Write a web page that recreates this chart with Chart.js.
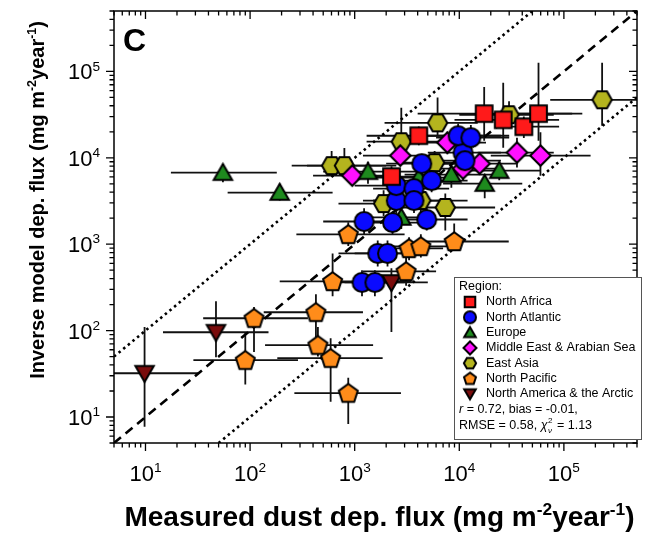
<!DOCTYPE html>
<html>
<head>
<meta charset="utf-8">
<script src="https://cdn.jsdelivr.net/npm/chart.js@4.4.0/dist/chart.umd.min.js"></script>
<style>
  html, body { margin: 0; padding: 0; background: #fff; }
  #wrap { width: 648px; height: 535px; }
</style>
</head>
<body>
<div id="wrap"><canvas id="chart" width="648" height="535"></canvas></div>
<script>
// ---- data ----
const regions = ['North Africa', 'North Atlantic', 'Europe', 'Middle East & Arabian Sea',
                 'East Asia', 'North Pacific', 'North America & the Arctic'];
const tickExponents = ['1', '2', '3', '4', '5'];
const axisMin = 5, axisMax = 5e5;

// North Africa
const nafX = [2250, 4100, 17300, 26300, 41400, 57200];
const nafY = [6060, 18000, 32400, 27500, 22900, 32400];
const nafXr = [[900, 6000], [1300, 30000], [4000, 120000], [9000, 90000], [22000, 90000], [22000, 150000]];
const nafYr = [[4500, 8000], [14000, 23000], [15800, 66000], [13100, 74000], [17000, 30000], [15800, 126000]];

// North Atlantic
const natX = [1175, 1560, 1660, 2060, 1230, 4880, 2500, 2500, 3690, 5440, 4380, 10860, 11330, 9750, 12900, 2300, 3690];
const natY = [361, 361, 782, 782, 1830, 1930, 3200, 4770, 4400, 5450, 8550, 11500, 9270, 18000, 17100, 1780, 3200];
const natXr = [[600, 2500], [800, 3000], [700, 4000], [1000, 4500], [500, 3000], [2000, 12000], [1200, 5000], [1000, 6000],
               [1500, 8000], [2500, 12000], [2000, 10000], [5000, 25000], [5000, 25000], [4000, 25000], [6000, 30000], [1000, 5000], [1500, 8000]];
const natYr = [[250, 500], [250, 500], [550, 1100], [550, 1100], [1300, 2600], [1440, 2680], [2300, 4300], [3500, 6500],
               [3200, 6000], [4000, 7500], [6500, 11000], [8500, 15000], [7000, 12000], [13000, 25000], [12000, 24000], [1300, 2400], [2300, 4300]];

// Europe
const eurX = [55, 192, 1340, 4100, 2790, 8400, 17500, 24100];
const eurY = [6730, 3960, 6900, 5900, 2040, 6400, 5030, 7100];
const eurXr = [[17.5, 180], [61, 615], [500, 4000], [1500, 9000], [1200, 6000], [3000, 25000], [7000, 40000], [10000, 60000]];
const eurYr = [[5200, 8500], [3200, 5000], [5000, 9000], [4500, 8000], [1500, 2900], [4500, 8500], [3400, 6500], [5500, 9000]];

// Middle East & Arabian Sea
const meX = [947, 2730, 7690, 10860, 15660, 35600, 59700];
const meY = [6220, 10600, 15000, 7490, 8550, 11500, 10600];
const meXr = [[400, 2200], [1200, 6000], [3500, 18000], [5000, 25000], [7000, 35000], [15000, 80000], [20000, 180000]];
const meYr = [[4800, 8000], [8000, 14000], [11000, 20000], [5500, 10000], [6500, 11000], [7700, 17100], [6200, 19700]];

// East Asia
const easX = [602, 797, 2790, 6200, 29900, 232000, 5810, 1890, 4290, 7350];
const easY = [8110, 8110, 15350, 25400, 31500, 46900, 8780, 2950, 3200, 2660];
const easXr = [[250, 2000], [350, 2500], [1300, 8000], [1930, 15000], [10000, 80000], [74000, 600000], [2500, 14000], [700, 5000], [1500, 12000], [2800, 22000]];
const easYr = [[6500, 12000], [6000, 13000], [9000, 38000], [18000, 50000], [22000, 45000], [23500, 126000], [6500, 12000], [2100, 4200], [2200, 4500], [1440, 3850]];

// North Pacific
const npX = [90, 109, 426, 445, 589, 868, 615, 868, 3100, 3310, 4290, 8940];
const npY = [45.4, 139, 163, 67.8, 47.9, 18.9, 371, 1300, 484, 893, 942, 1075];
const npXr = [[28.7, 287], [35.6, 357], [135, 1200], [139, 1500], [182, 1850], [265, 2770], [192, 3500], [277, 3000], [1200, 6000], [1500, 7000], [2000, 9000], [4100, 29700]];
const npYr = [[23.8, 96.4], [56.6, 187], [84, 263], [50, 110], [15, 81.5], [8.3, 28.4], [250, 780], [950, 1800], [330, 700], [650, 1200], [700, 1300], [847, 1730]];

// North America & the Arctic
const nacX = [9.8, 47.2, 2245];
const nacY = [32.1, 95.7, 361];
const nacXr = [[3, 32], [14.7, 150], [1000, 5000]];
const nacYr = [[7.7, 110], [49.2, 218], [96, 525]];

// ---- styling ----
const FONT = '"Liberation Sans", Arial, sans-serif';
const colors = ['#ff1a1a', '#0a0aff', '#1e8a1e', '#ff10ff', '#b4b41e', '#ff8c1a', '#7a0c0c'];
const shapes = ['square', 'circle', 'triUp', 'diamond', 'hexagon', 'pentagon', 'triDown'];

function makeMarker(shape, fill, size) {
    const pad = 3;
    const c = document.createElement('canvas');
    c.width = c.height = size + pad * 2;
    const g = c.getContext('2d');
    const cx = c.width / 2, cy = c.height / 2, r = size / 2;
    const poly = (n, start, rad, dy) => {
        g.beginPath();
        for (let i = 0; i < n; i++) {
            const a = start + i * 2 * Math.PI / n;
            const px = cx + rad * Math.cos(a), py = cy + (dy || 0) + rad * Math.sin(a);
            i ? g.lineTo(px, py) : g.moveTo(px, py);
        }
        g.closePath();
    };
    if (shape === 'circle') { g.beginPath(); g.arc(cx, cy, r, 0, Math.PI * 2); }
    else if (shape === 'square') { const s = r * 0.88; g.beginPath(); g.rect(cx - s, cy - s, 2 * s, 2 * s); }
    else if (shape === 'triUp') poly(3, -Math.PI / 2, r * 1.12, r * 0.2);
    else if (shape === 'triDown') poly(3, Math.PI / 2, r * 1.12, -r * 0.2);
    else if (shape === 'diamond') poly(4, 0, r * 1.08);
    else if (shape === 'hexagon') poly(6, 0, r * 1.02);
    else if (shape === 'pentagon') poly(5, -Math.PI / 2, r * 1.05, r * 0.08);
    g.fillStyle = fill;
    g.fill();
    g.lineWidth = 2;
    g.lineJoin = 'miter';
    g.strokeStyle = '#000';
    g.stroke();
    return c;
}

const bigMarkers = shapes.map((s, i) => makeMarker(s, colors[i], 19));
const smallMarkers = shapes.map((s, i) => makeMarker(s, colors[i], 12));

const seriesX = [nafX, natX, eurX, meX, easX, npX, nacX];
const seriesY = [nafY, natY, eurY, meY, easY, npY, nacY];
const seriesXr = [nafXr, natXr, eurXr, meXr, easXr, npXr, nacXr];
const seriesYr = [nafYr, natYr, eurYr, meYr, easYr, npYr, nacYr];

const pointSets = regions.map((name, i) => ({
    label: name,
    data: seriesX[i].map((x, k) => ({ x: x, y: seriesY[i][k] })),
    errX: seriesXr[i],
    errY: seriesYr[i],
    pointStyle: bigMarkers[i],
    pointRadius: 10,
    showLine: false
}));

// reference lines: 1:1 and factor 10
const refLines = [
    { data: [{ x: axisMin, y: axisMin }, { x: axisMax, y: axisMax }], borderDash: [9, 6] },
    { data: [{ x: axisMin, y: axisMin * 10 }, { x: axisMax / 10, y: axisMax }], borderDash: [2.5, 3.5] },
    { data: [{ x: axisMin * 10, y: axisMin }, { x: axisMax, y: axisMax / 10 }], borderDash: [2.5, 3.5] }
].map(l => Object.assign(l, {
    showLine: true, pointRadius: 0, borderColor: '#000', borderWidth: 2.6, fill: false
}));

// draws text pieces, some of them superscript, starting at x
function drawRich(ctx, segs, x, y, size, bold) {
    const w = bold ? 'bold ' : '';
    let cx = x;
    segs.forEach(s => {
        const sz = s.sup ? size * 0.62 : size;
        ctx.font = w + sz + 'px ' + FONT;
        ctx.fillText(s.t, cx, s.sup ? y - size * 0.4 : y);
        cx += ctx.measureText(s.t).width;
    });
    return cx - x;
}
function richWidth(ctx, segs, size, bold) {
    const w = bold ? 'bold ' : '';
    return segs.reduce((acc, s) => {
        ctx.font = w + (s.sup ? size * 0.62 : size) + 'px ' + FONT;
        return acc + ctx.measureText(s.t).width;
    }, 0);
}

const unitSegs = [{ t: '(mg m' }, { t: '-2', sup: true }, { t: 'year' }, { t: '-1', sup: true }, { t: ')' }];
const xTitle = [{ t: 'Measured dust dep. flux ' }].concat(unitSegs);
const yTitle = [{ t: 'Inverse model dep. flux ' }].concat(unitSegs);

const decorations = {
    id: 'decorations',
    beforeDatasetsDraw(chart) {
        const ctx = chart.ctx, xs = chart.scales.x, ys = chart.scales.y, a = chart.chartArea;
        ctx.save();
        ctx.beginPath();
        ctx.rect(a.left, a.top, a.right - a.left, a.bottom - a.top);
        ctx.clip();
        ctx.strokeStyle = '#111';
        ctx.lineWidth = 1.8;
        chart.data.datasets.forEach(ds => {
            if (!ds.errX) return;
            ds.data.forEach((p, k) => {
                const px = xs.getPixelForValue(p.x), py = ys.getPixelForValue(p.y);
                ctx.beginPath();
                ctx.moveTo(xs.getPixelForValue(ds.errX[k][0]), py);
                ctx.lineTo(xs.getPixelForValue(ds.errX[k][1]), py);
                ctx.moveTo(px, ys.getPixelForValue(ds.errY[k][0]));
                ctx.lineTo(px, ys.getPixelForValue(ds.errY[k][1]));
                ctx.stroke();
            });
        });
        ctx.restore();
    },
    afterDraw(chart) {
        const ctx = chart.ctx, xs = chart.scales.x, ys = chart.scales.y, a = chart.chartArea;
        ctx.save();
        ctx.fillStyle = '#000';
        ctx.strokeStyle = '#000';

        // frame
        ctx.lineWidth = 1.5;
        ctx.strokeRect(a.left, a.top, a.right - a.left, a.bottom - a.top);

        // log ticks on all four sides
        ctx.lineWidth = 1.3;
        for (let e = 0; e <= 5; e++) {
            for (let m = 1; m <= 9; m++) {
                const v = m * Math.pow(10, e);
                if (v < axisMin || v > axisMax) continue;
                const len = m === 1 ? 8 : 4.5;
                const px = xs.getPixelForValue(v), py = ys.getPixelForValue(v);
                ctx.beginPath();
                ctx.moveTo(px, a.bottom); ctx.lineTo(px, a.bottom + len);
                ctx.moveTo(px, a.top); ctx.lineTo(px, a.top + len);
                ctx.moveTo(a.left, py); ctx.lineTo(a.left - len, py);
                ctx.moveTo(a.right, py); ctx.lineTo(a.right - len, py);
                ctx.stroke();
            }
        }

        // tick labels 10^n
        ctx.textBaseline = 'alphabetic';
        ctx.textAlign = 'left';
        tickExponents.forEach(exp => {
            const v = Math.pow(10, +exp);
            const segs = [{ t: '10' }, { t: exp, sup: true }];
            const w = richWidth(ctx, segs, 22, false);
            const px = xs.getPixelForValue(v);
            drawRich(ctx, segs, px - w / 2, 481, 22, false);
            const py = ys.getPixelForValue(v);
            drawRich(ctx, segs, 100 - w, py + 8, 22, false);
        });

        // axis titles
        const xw = richWidth(ctx, xTitle, 28, true);
        drawRich(ctx, xTitle, (a.left + a.right) / 2 - xw / 2 + 4, 526, 28, true);
        const yw = richWidth(ctx, yTitle, 20, true);
        ctx.save();
        ctx.translate(44, 200);
        ctx.rotate(-Math.PI / 2);
        drawRich(ctx, yTitle, -yw / 2, 0, 20, true);
        ctx.restore();

        // panel letter
        ctx.font = 'bold 32px ' + FONT;
        ctx.fillText('C', 123, 51);

        // legend box
        const bx = 454, by = 277, bw = 187, bh = 162;
        ctx.fillStyle = '#fff';
        ctx.fillRect(bx, by, bw, bh);
        ctx.strokeStyle = '#555';
        ctx.lineWidth = 1;
        ctx.strokeRect(bx + 0.5, by + 0.5, bw, bh);
        ctx.fillStyle = '#000';
        ctx.textBaseline = 'middle';
        ctx.font = '12.5px ' + FONT;
        ctx.fillText('Region:', 459, 287);
        regions.forEach((name, i) => {
            const cy = 302 + i * 15.3;
            const mk = smallMarkers[i];
            ctx.drawImage(mk, 470 - mk.width / 2, cy - mk.height / 2);
            ctx.fillText(name, 486, cy);
        });
        // stats
        let sx = 459;
        ctx.font = 'italic 12.5px ' + FONT;
        ctx.fillText('r', sx, 410);
        sx += ctx.measureText('r').width;
        ctx.font = '12.5px ' + FONT;
        ctx.fillText(' = 0.72, bias = -0.01,', sx, 410);
        sx = 459;
        ctx.fillText('RMSE = 0.58, ', sx, 426);
        sx += ctx.measureText('RMSE = 0.58, ').width;
        ctx.font = 'italic 12.5px ' + FONT;
        ctx.fillText('\u03c7', sx, 426);
        sx += ctx.measureText('\u03c7').width;
        ctx.font = '8px ' + FONT;
        ctx.fillText('2', sx + 0.5, 421);
        ctx.font = 'italic 8px ' + FONT;
        ctx.fillText('\u03bd', sx + 0.5, 431);
        sx += 6;
        ctx.font = '12.5px ' + FONT;
        ctx.fillText(' = 1.13', sx, 426);

        ctx.restore();
    }
};

const ctx = document.getElementById('chart').getContext('2d');
new Chart(ctx, {
    type: 'scatter',
    data: { datasets: pointSets.concat(refLines) },
    options: {
        responsive: false,
        animation: false,
        layout: { padding: { left: 114, right: 1, top: 10, bottom: 92 } },
        scales: {
            x: { type: 'logarithmic', min: axisMin, max: axisMax, display: false },
            y: { type: 'logarithmic', min: axisMin, max: axisMax, display: false }
        },
        plugins: {
            legend: { display: false },
            tooltip: { enabled: false }
        }
    },
    plugins: [decorations]
});
</script>
</body>
</html>
